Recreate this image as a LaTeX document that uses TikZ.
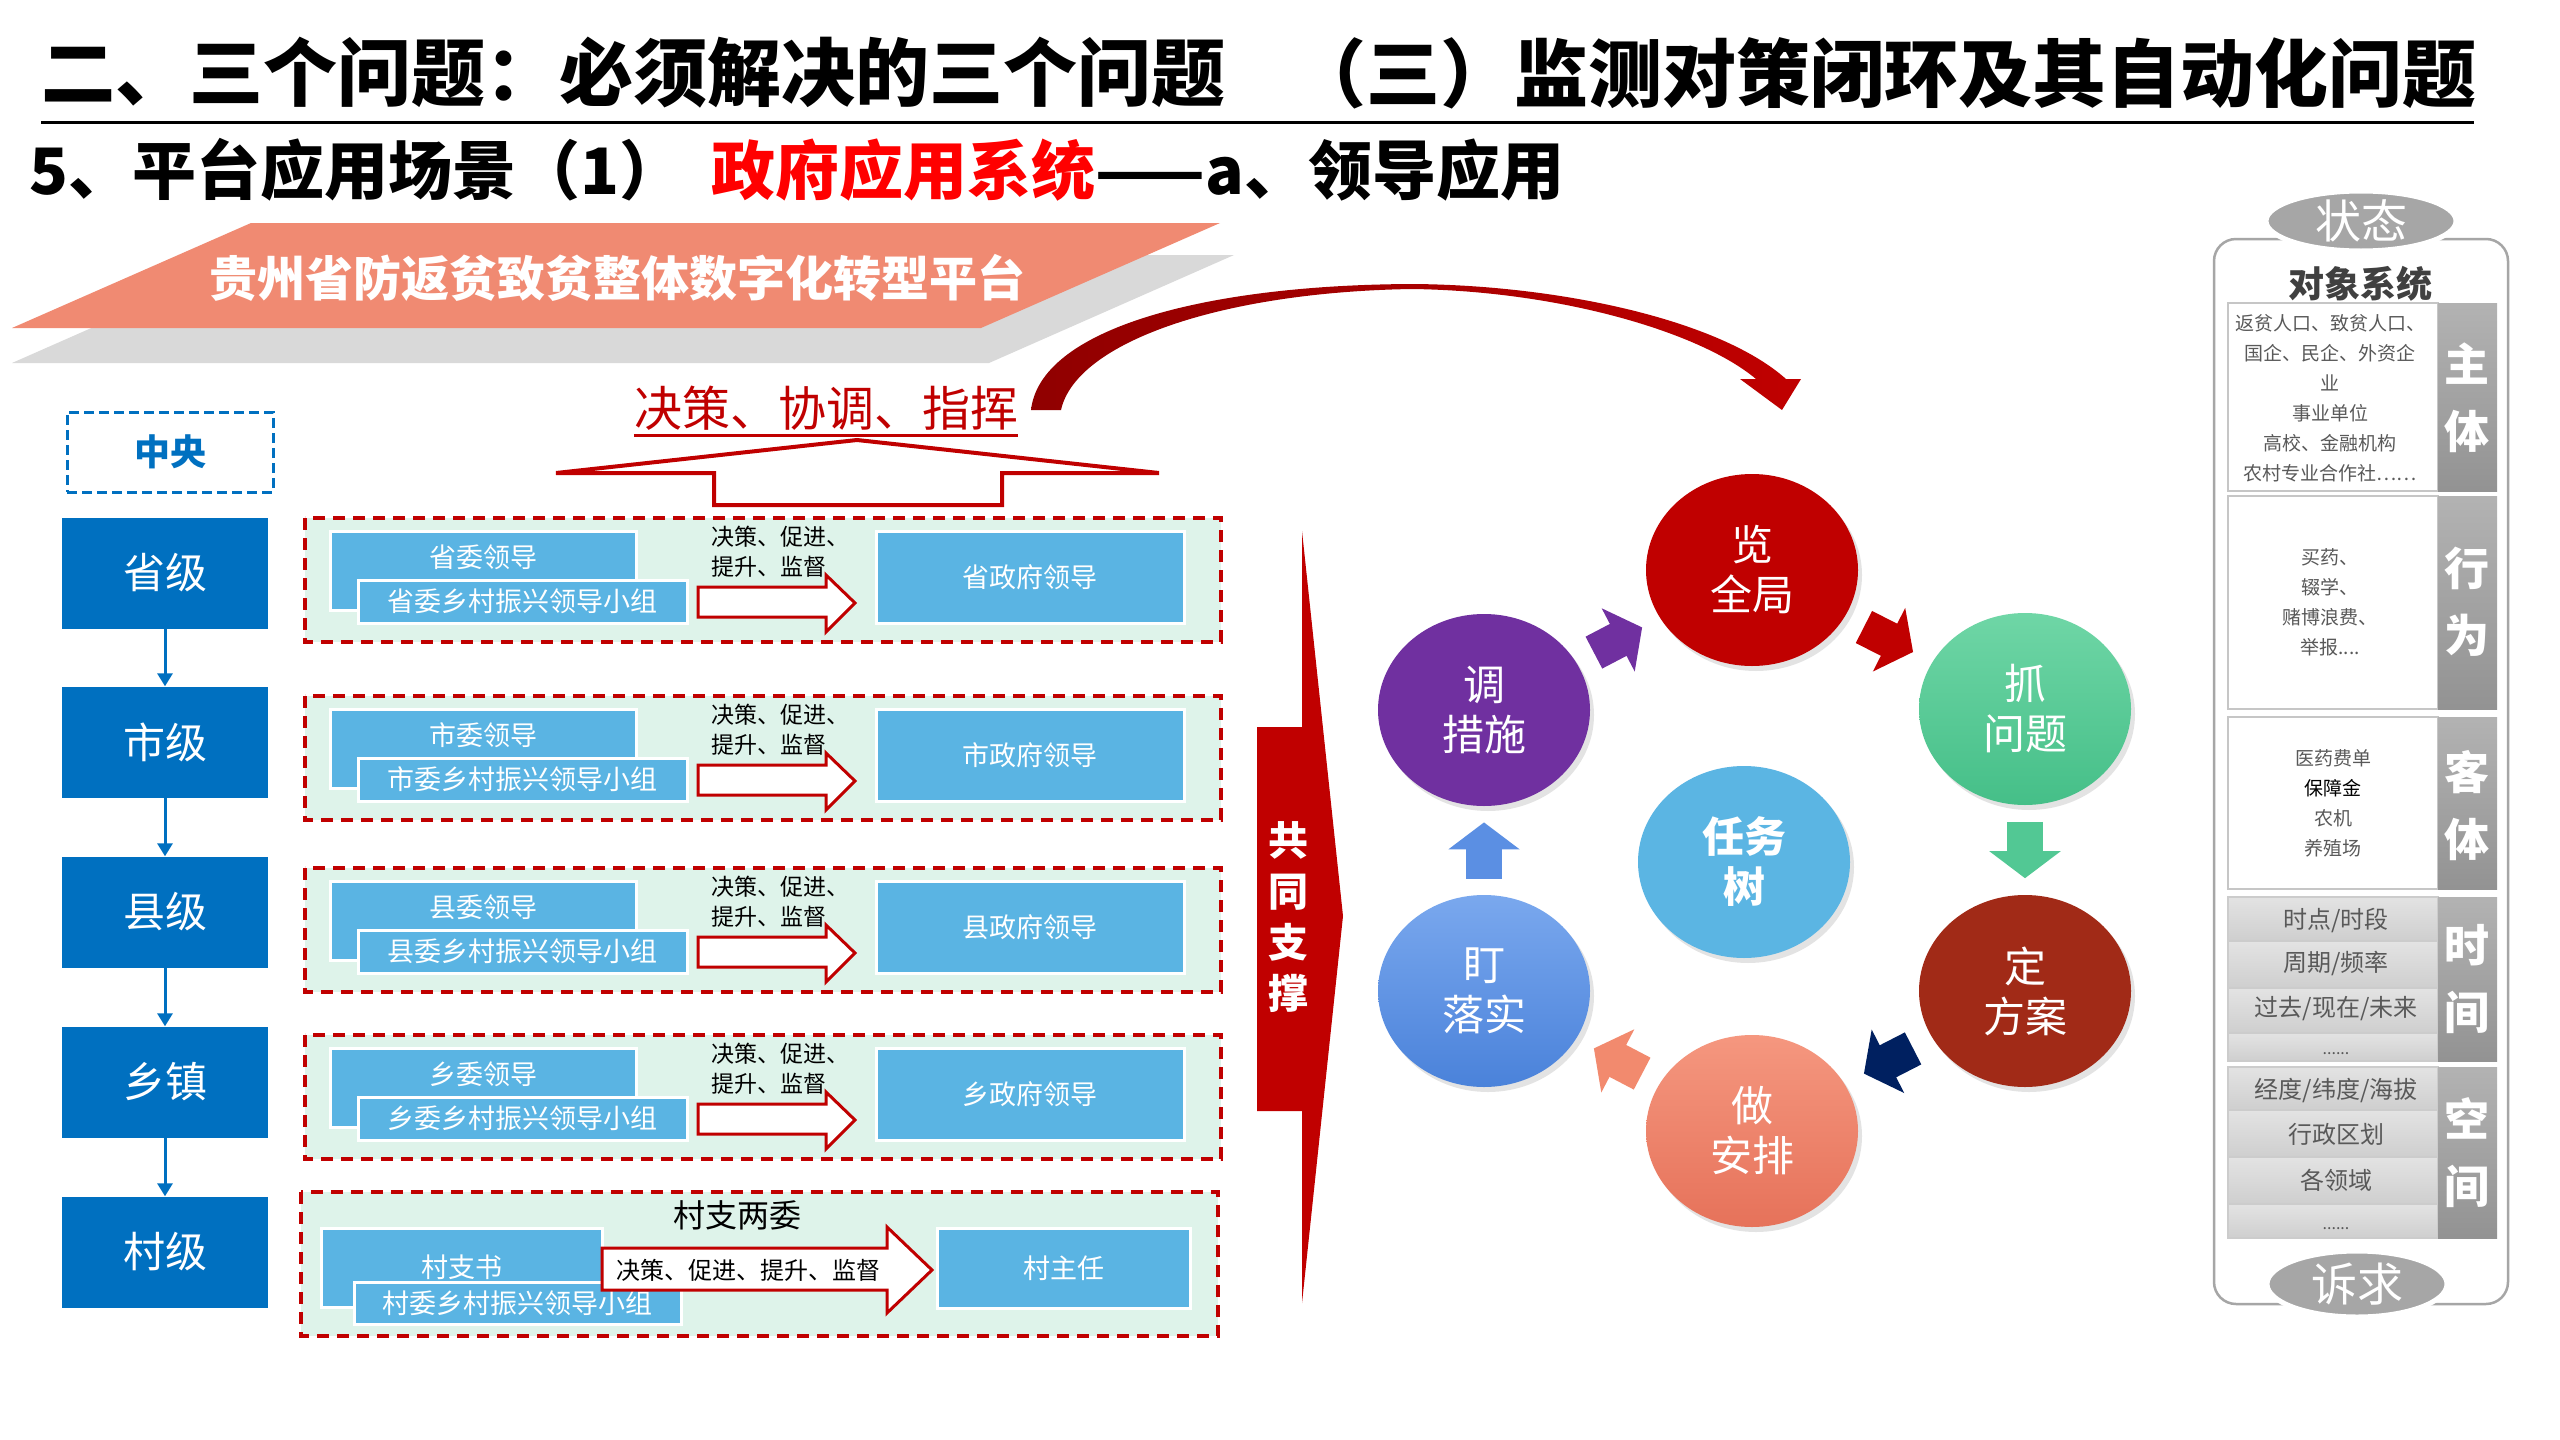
\documentclass[tikz,border=0pt]{standalone}
\usepackage{fontspec}
\setmainfont{Noto Sans CJK SC}
\usetikzlibrary{arrows.meta, calc, shapes.geometric, shadows}

\definecolor{lvblue}{HTML}{0070C0}
\definecolor{boxblue}{HTML}{5AB4E3}
\definecolor{mint}{HTML}{DEF3EA}
\definecolor{darkred}{HTML}{C00000}
\definecolor{platsalmon}{HTML}{F08A72}
\definecolor{platgray}{HTML}{D9D9D9}
\definecolor{panelgray}{HTML}{A6A6A6}
\definecolor{txtgray}{HTML}{595959}
\definecolor{objgray}{HTML}{404040}
\definecolor{cpurple}{HTML}{7030A0}
\definecolor{cbrown}{HTML}{A12A17}
\definecolor{cnavy}{HTML}{002060}
\definecolor{csky}{HTML}{5BB5E3}
\definecolor{cgreentop}{HTML}{6FD6A6}
\definecolor{cgreenbot}{HTML}{45BF88}
\definecolor{cgreen}{HTML}{52C894}
\definecolor{csalmontop}{HTML}{F5977F}
\definecolor{csalmonbot}{HTML}{E6725A}
\definecolor{csalmon}{HTML}{F28A6E}
\definecolor{cbluetop}{HTML}{7AA8EE}
\definecolor{cbluebot}{HTML}{4A82DA}
\definecolor{cblue}{HTML}{5B8FE3}

\newcommand{\fsz}[2]{\fontsize{#1}{#2}\selectfont}

\begin{document}
\begin{tikzpicture}[x=1pt, y=-1pt,
    lvbox/.style={fill=lvblue, minimum width=206pt, minimum height=111pt, text=white, font=\fsz{42}{42}},
    lvarrow/.style={draw=lvblue, line width=3pt, -{Triangle[length=13pt 0 1, width=15pt 0 1]}},
    grpframe/.style={draw=darkred, fill=mint, line width=3.5pt, dash pattern=on 12pt off 8pt},
    bluebox/.style={fill=boxblue, draw=white, line width=3pt, text=white, font=\fsz{27}{27}, inner sep=0},
    boxtext/.style={text=white, font=\fsz{27}{27}, inner sep=0},
    grparrow/.style={draw=darkred, fill=white, line width=3pt, line join=miter},
    acttext/.style={anchor=north west, align=left, inner sep=0, font=\fsz{23}{30}},
    circ/.style={ellipse, minimum width=212pt, minimum height=192pt, inner sep=0, text=white, align=center,
        font=\fsz{42}{50}, drop shadow={opacity=0.22, shadow xshift=4pt, shadow yshift=-5pt}},
    cyarrow/.style={line width=36pt, -{Triangle[length=27pt 0 1, width=70pt 0 1]}},
    barlabel/.style={text=white, align=center, inner sep=0, font=\bfseries\fsz{45}{67}},
    celltext/.style={text=txtgray, align=center, inner sep=0, font=\fsz{19}{30}},
    rowtext/.style={text=txtgray, inner sep=0, font=\fsz{24}{24}},
    oval/.style={ellipse, fill=panelgray, draw=white, line width=5pt, inner sep=0, text=white, font=\fsz{46}{46}}
]
\useasboundingbox (0,0) rectangle (2560,1440);
\fill[white] (0,0) rectangle (2560,1440);

% titles
\node[anchor=west, inner sep=0, font=\bfseries\fsz{74}{74}] (title) at (41,73) {二、三个问题：必须解决的三个问题};
\node[anchor=west, inner sep=0, font=\bfseries\fsz{74}{74}] (title2) at (1292,73) {（三）监测对策闭环及其自动化问题};
\draw[line width=3pt] (41,122) -- (2474,122);
\node[anchor=west, inner sep=0, font=\bfseries\fsz{64}{64}] (subtitle) at (29,170)
    {5、平台应用场景（1）\hspace{0.45em}\textcolor{red}{政府应用系统}——a、领导应用};

% platform banner
\fill[platgray] (257,255) -- (1234,255) -- (989,363) -- (12,363) -- cycle;
\fill[platsalmon] (251,223) -- (1220,223) -- (981,328) -- (12,328) -- cycle;
\node[text=white, font=\bfseries\fsz{48}{48}] (platform) at (617,278) {贵州省防返贫致贫整体数字化转型平台};

% decision arrow
\node[text=darkred, inner sep=0, font=\fsz{48}{48}] (zhihui) at (826,408) {决策、协调、指挥};
\draw[darkred, line width=2.5pt] ([yshift=-5pt]zhihui.south west) -- ([yshift=-5pt]zhihui.south east);
\draw[grparrow, line width=4pt] (857,440) -- (1159,473) -- (1002,473) -- (1002,505) -- (714,505) -- (714,473) -- (556,473) -- cycle;

% curved arrow
\shade[left color=darkred!75!black, right color=darkred]
    (1031,410) .. controls (1040,330) and (1200,285) .. (1412,284)
    .. controls (1560,285) and (1720,320) .. (1786,379) -- (1801,379) -- (1782,410) -- (1740,379) -- (1756,379)
    .. controls (1700,332) and (1560,291) .. (1412,289)
    .. controls (1222,292) and (1076,342) .. (1061,410) -- cycle;

% levels
\node[draw=lvblue, line width=3pt, dash pattern=on 10pt off 5pt, minimum width=206pt, minimum height=80pt,
    text=lvblue, font=\bfseries\fsz{36}{36}] (zhongyang) at (170,452) {中央};
\node[lvbox] (sheng) at (165,573) {省级};
\node[lvbox] (shi) at (165,742) {市级};
\node[lvbox] (xian) at (165,912) {县级};
\node[lvbox] (xiang) at (165,1082) {乡镇};
\node[lvbox] (cun) at (165,1252) {村级};
\foreach \a/\b in {sheng/shi, shi/xian, xian/xiang, xiang/cun}
    \draw[lvarrow] (\a) -- (\b);

% groups
\foreach \lv/\T/\id in {省/518/a, 市/696/b, 县/868/c, 乡/1035/d} {
    \draw[grpframe] (305,\T) rectangle (1221,\T+124);
    \node[bluebox, minimum width=306pt, minimum height=79pt] (lead\id) at (483,\T+52.5) {};
    \node[boxtext] (leadt\id) at (483,\T+39) {\lv{}委领导};
    \node[bluebox, minimum width=329pt, minimum height=43pt] (group\id) at (522.5,\T+83.5) {\lv{}委乡村振兴领导小组};
    \node[bluebox, minimum width=308pt, minimum height=92pt] (gov\id) at (1030,\T+59.5) {\lv{}政府领导};
    \draw[grparrow] (698,\T+69) -- (826,\T+69) -- (826,\T+57) -- (855,\T+85) -- (826,\T+114) -- (826,\T+99) -- (698,\T+99) -- cycle;
    \node[acttext] (act\id) at (711,\T+8) {决策、促进、\\提升、监督};
}

\draw[grpframe] (301,1192) rectangle (1218,1336);
\node[inner sep=0, font=\fsz{32}{32}] (liangwei) at (737,1215) {村支两委};
\node[bluebox, minimum width=281pt, minimum height=79pt] (zhishu) at (461.5,1267.5) {村支书};
\node[bluebox, minimum width=327pt, minimum height=42pt] (cungroup) at (517.5,1303) {村委乡村振兴领导小组};
\draw[grparrow] (602,1248) -- (887,1248) -- (887,1227) -- (932,1270) -- (887,1313) -- (887,1290) -- (602,1290) -- cycle;
\node[inner sep=0, font=\fsz{24}{24}] (cunact) at (748,1270) {决策、促进、提升、监督};
\node[bluebox, minimum width=253pt, minimum height=80pt] (zhuren) at (1063.5,1268) {村主任};

% support arrow
\fill[darkred] (1257,727) -- (1302,727) -- (1302,531) -- (1343,916) -- (1302,1303) -- (1302,1111) -- (1257,1111) -- cycle;
\node[text=white, align=center, inner sep=0, font=\bfseries\fsz{40}{51}] (gongtong) at (1288,917) {共\\同\\支\\撑};

% cycle
\node[circ, fill=darkred] (lan) at (1752,570) {览\\全局};
\node[circ, top color=cgreentop, bottom color=cgreenbot] (zhua) at (2025,709) {抓\\问题};
\node[circ, fill=cbrown] (ding) at (2025,991) {定\\方案};
\node[circ, top color=csalmontop, bottom color=csalmonbot] (zuo) at (1752,1131) {做\\安排};
\node[circ, top color=cbluetop, bottom color=cbluebot] (dingluo) at (1484,991) {盯\\落实};
\node[circ, fill=cpurple] (tiao) at (1484,710) {调\\措施};
\node[circ, fill=csky, font=\bfseries\fsz{42}{50}] (renwu) at (1744,862) {任务\\树};

\draw[cyarrow, cpurple] ($(tiao)!0.41!(lan)$) -- ($(tiao)!0.59!(lan)$);
\draw[cyarrow, darkred] ($(lan)!0.41!(zhua)$) -- ($(lan)!0.59!(zhua)$);
\draw[cyarrow, cgreen] ($(zhua)!0.40!(ding)$) -- ($(zhua)!0.60!(ding)$);
\draw[cyarrow, cnavy] ($(ding)!0.41!(zuo)$) -- ($(ding)!0.59!(zuo)$);
\draw[cyarrow, csalmon] ($(zuo)!0.41!(dingluo)$) -- ($(zuo)!0.59!(dingluo)$);
\draw[cyarrow, cblue] ($(dingluo)!0.40!(tiao)$) -- ($(dingluo)!0.60!(tiao)$);

% object panel
\draw[panelgray, line width=2.5pt, rounded corners=22pt] (2214,239) rectangle (2508,1304);
\node[text=objgray, inner sep=0, font=\bfseries\fsz{36}{36}] (duixiang) at (2360,284) {对象系统};
\foreach \ya/\yb in {303/491, 496/709, 717/889} {
    \draw[gray!45, line width=1.5pt, fill=white] (2228,\ya) rectangle (2438,\yb);
    \shade[top color=gray!60, bottom color=gray!85] (2438,\ya) rectangle (2497,\yb);
}
\foreach \ya/\yb in {897/941, 941/988, 988/1033, 1033/1061, 1067/1110, 1110/1157, 1157/1204, 1204/1238}
    \draw[gray!40, line width=1.5pt, top color=gray!22, bottom color=gray!38] (2228,\ya) rectangle (2438,\yb);
\shade[top color=gray!60, bottom color=gray!85] (2438,897) rectangle (2497,1061);
\shade[top color=gray!60, bottom color=gray!85] (2438,1067) rectangle (2497,1238);

\node[barlabel] (zhuti) at (2467,398) {主\\体};
\node[barlabel] (xingwei) at (2467,602) {行\\为};
\node[barlabel] (keti) at (2467,806) {客\\体};
\node[barlabel] (shijian) at (2467,979) {时\\间};
\node[barlabel] (kongjian) at (2467,1153) {空\\间};

\node[celltext] (zhutitxt) at (2330,398) {返贫人口、致贫人口、\\国企、民企、外资企\\业\\事业单位\\高校、金融机构\\农村专业合作社……};
\node[celltext] (xingweitxt) at (2330,602) {买药、\\辍学、\\赌博浪费、\\举报....};
\node[celltext] (ketitxt) at (2333,803) {医药费单\\\textcolor{black}{保障金}\\农机\\养殖场};

\node[rowtext] (t1) at (2336,920) {时点/时段};
\node[rowtext] (t2) at (2336,963) {周期/频率};
\node[rowtext] (t3) at (2336,1009) {过去/现在/未来};
\node[rowtext, font=\fsz{16}{16}] (t4) at (2336,1054) {......};
\node[rowtext] (s1) at (2336,1090) {经度/纬度/海拔};
\node[rowtext] (s2) at (2336,1134) {行政区划};
\node[rowtext] (s3) at (2336,1180) {各领域};
\node[rowtext, font=\fsz{16}{16}] (s4) at (2336,1229) {......};

\node[oval, minimum width=190pt, minimum height=60pt] (zhuangtai) at (2361,221) {状态};
\node[oval, minimum width=180pt, minimum height=66pt] (suqiu) at (2357,1284) {诉求};
\end{tikzpicture}
\end{document}
